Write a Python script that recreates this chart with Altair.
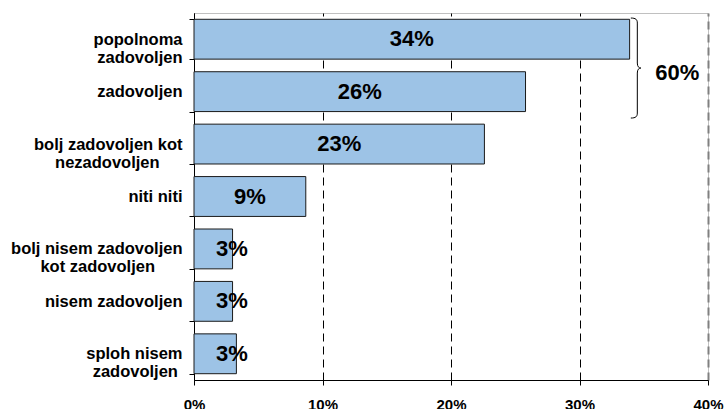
import altair as alt
import pandas as pd

categories = [
    "popolnoma zadovoljen",
    "zadovoljen",
    "bolj zadovoljen kot nezadovoljen",
    "niti niti",
    "bolj nisem zadovoljen kot zadovoljen",
    "nisem zadovoljen",
    "sploh nisem zadovoljen",
]
# axis label text, split into lines with "|" (shorter lines padded so each block reads centred)
NB = "\u00a0"
END = "\u200b"
label_lines = [
    "popolnoma|zadovoljen",
    "zadovoljen",
    "bolj zadovoljen kot|nezadovoljen" + NB * 5 + END,
    "niti niti",
    "bolj nisem zadovoljen|kot zadovoljen" + NB * 6 + END,
    "nisem zadovoljen",
    "sploh nisem|zadovoljen" + NB * 1 + END,
]
values = [33.9, 25.8, 22.6, 8.7, 3.0, 3.0, 3.3]
value_labels = ["34%", "26%", "23%", "9%", "3%", "3%", "3%"]

group_label = "60%"
group_members = ["popolnoma zadovoljen", "zadovoljen"]

x_ticks = [0, 10, 20, 30, 40]

df = pd.DataFrame({
    "cat": label_lines,
    "value": values,
    "label": value_labels,
})

FONT = "Liberation Sans"

y_enc = alt.Y(
    "cat:N",
    sort=label_lines,
    scale=alt.Scale(paddingInner=0.24, paddingOuter=0.12),
    axis=alt.Axis(
        title=None,
        labelExpr="split(datum.label, '|')",
        labelFont=FONT,
        labelFontSize=16.5,
        labelFontWeight="bold",
        labelColor="black",
        labelLineHeight=18,
        labelPadding=7,
        labelLimit=300,
        tickBand="extent",
        tickSize=5,
        tickColor="black",
        domainColor="black",
        grid=False,
    ),
)

x_enc = alt.X(
    "value:Q",
    scale=alt.Scale(domain=[0, 40], nice=False),
    axis=alt.Axis(
        title=None,
        values=x_ticks,
        labelExpr="datum.value + '%'",
        labelFont=FONT,
        labelFontSize=15,
        labelFontWeight="bold",
        labelColor="black",
        labelFlush=False,
        labelPadding=12,
        tickSize=5,
        tickColor="black",
        domainColor="black",
        grid=True,
        gridColor={"condition": {"test": "datum.value === 40", "value": "#808080"}, "value": "black"},
        gridWidth={"condition": {"test": "datum.value === 40", "value": 2}, "value": 1},
        gridDash=[8, 5],
    ),
)

bars = alt.Chart(df).mark_bar(
    color="#9DC3E6", stroke="#1a1a1a", strokeWidth=1
).encode(x=x_enc, y=y_enc)

texts = alt.Chart(df).transform_calculate(
    pos="max(datum.value / 2, 2.95)"
).mark_text(
    font=FONT, fontSize=22, fontWeight="bold", color="black", align="center", baseline="middle"
).encode(
    x=alt.X("pos:Q"),
    y=alt.Y("cat:N", sort=label_lines),
    text="label:N",
)

ann = pd.DataFrame({
    "cat": [label_lines[categories.index(group_members[1])]],
    "bx": [34.5],
    "tx": [35.9],
    "label": [group_label],
})

brace_path = (
    "M -0.13 -1 C -0.03 -1 0 -0.97 0 -0.9 L 0 -0.1 C 0 -0.03 0.03 0 0.07 0 "
    "C 0.03 0 0 0.03 0 0.1 L 0 0.9 C 0 0.97 -0.03 1 -0.13 1"
)

brace = alt.Chart(ann).mark_point(
    shape=brace_path, size=10000, filled=False, stroke="black", strokeWidth=1,
    opacity=1, yOffset=-23.6
).encode(
    x=alt.X("bx:Q"),
    y=alt.Y("cat:N", sort=label_lines),
)

group_text = alt.Chart(ann).mark_text(
    font=FONT, fontSize=22, fontWeight="bold", color="black", align="left",
    baseline="middle", dy=-19
).encode(
    x=alt.X("tx:Q"),
    y=alt.Y("cat:N", sort=label_lines),
    text="label:N",
)

chart = alt.layer(bars, texts, brace, group_text).properties(
    width=514,
    height=367,
    autosize=alt.AutoSizeParams(type="none"),
    padding={"left": 194, "top": 13, "right": 18, "bottom": 29},
    background="white",
).configure_view(
    stroke="#c0c0c0", strokeWidth=1
)

chart.save("out.html", embed_options={"renderer": "svg", "actions": False})
